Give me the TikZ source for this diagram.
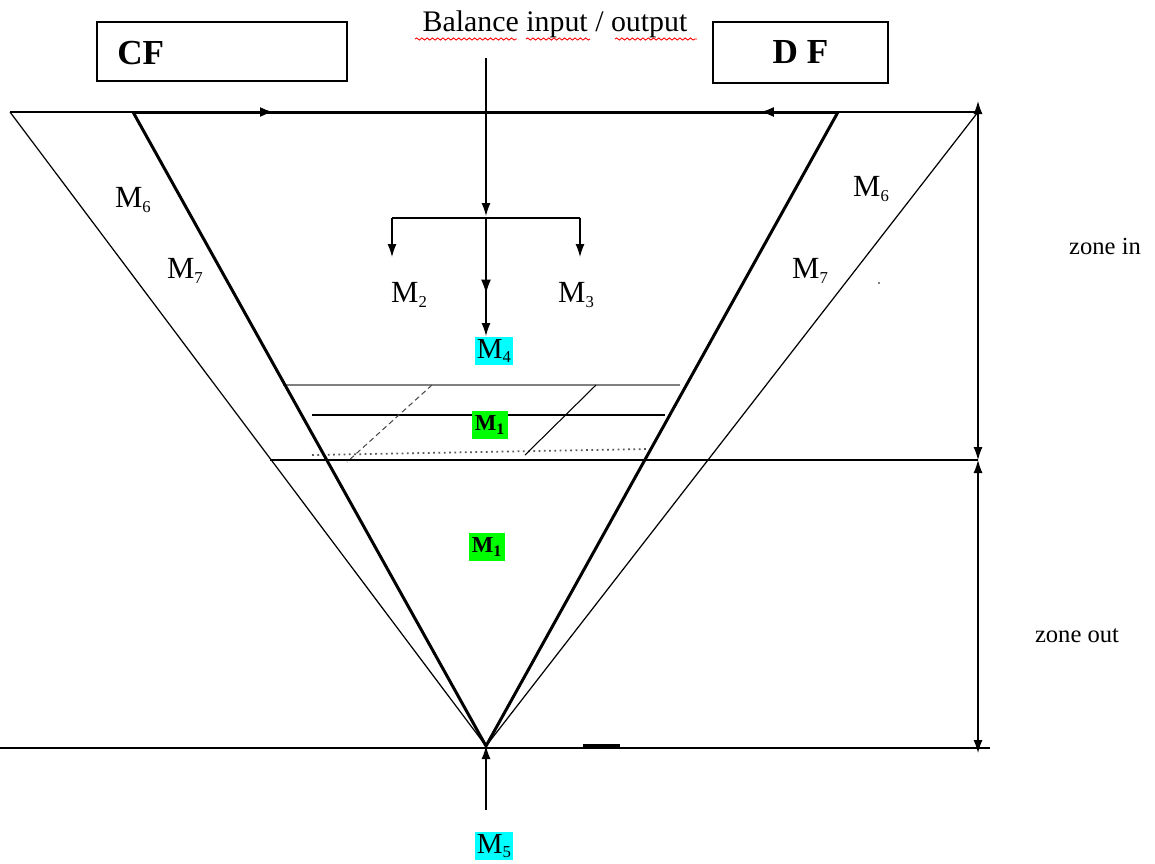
\documentclass[tikz,border=0pt]{standalone}
\usepackage{fontspec}
\setmainfont{Liberation Serif}
\usetikzlibrary{arrows.meta,decorations.markings,decorations.pathmorphing}
\newcommand\msub[2]{#1\raisebox{-0.3ex}{\fontsize{9.5}{10}\selectfont #2}}
\definecolor{hlgreen}{RGB}{0,255,0}
\definecolor{hlcyan}{RGB}{0,255,255}
\begin{document}
\begin{tikzpicture}[x=0.02cm,y=-0.02cm,
  thinl/.style={line width=0.7pt},
  thickl/.style={line width=1.7pt},
  tip/.style={-{Latex[length=2.6mm,width=1.8mm]}},
  dtip/.style={{Latex[length=2.6mm,width=1.8mm]}-{Latex[length=2.6mm,width=1.8mm]}},
  midarrow/.style={decoration={markings, mark=at position #1 with {\arrow{Latex[length=2.8mm,width=2mm]}}}, postaction=decorate},
  midarrowrev/.style={decoration={markings, mark=at position #1 with {\arrowreversed{Latex[length=2.8mm,width=2mm]}}}, postaction=decorate},
  box/.style={draw, line width=0.9pt, inner sep=0},
  lbl/.style={font=\fontsize{17.5}{18}\selectfont, inner sep=0},
  hl/.style={font=\fontsize{16.5}{17}\selectfont, inner xsep=1pt, inner ysep=1.5pt},
  hlb/.style={font=\bfseries\fontsize{13}{14}\selectfont, fill=hlgreen, inner xsep=1.5pt, inner ysep=2.5pt},
  zone/.style={font=\fontsize{14}{15}\selectfont, inner sep=0},
  wavy/.style={red, line width=0.5pt, decorate, decoration={snake, amplitude=0.6pt, segment length=3pt}}
]
\useasboundingbox (0,0) rectangle (1155,863);

% key points
\coordinate (A) at (486,746);
\coordinate (TL) at (133,112);
\coordinate (TR) at (838,112);
\coordinate (OL) at (10,112);
\coordinate (OR) at (978,112);
\coordinate (ORb) at (978,101);
\coordinate (Z) at (978,460);
\coordinate (Zb) at (978,753);
\coordinate (ML) at (270,460);

% top boxes and title
\node[box, minimum width=5cm, minimum height=1.18cm] (cf) at (222,51.5) {};
\node[font=\bfseries\fontsize{20}{22}\selectfont, anchor=west, inner sep=0] (cft) at (117,53) {CF};
\node[box, minimum width=3.5cm, minimum height=1.22cm, font=\bfseries\fontsize{20}{22}\selectfont] (df) at (800.5,52.5) {D F};
\node[font=\fontsize{17}{18}\selectfont, anchor=base, inner sep=0] (bal) at (555,31) {Balance input / output};
\draw[wavy] (415,39) -- (517,39);
\draw[wavy] (526,39) -- (590,39);
\draw[wavy] (615,39) -- (697,39);

% hatched band
\draw[line width=0.6pt, gray] (283,385) -- (680,385);
\draw[thinl] (312,415) -- (665,415);
\draw[line width=1pt, dotted, gray!70!black] (312,455) -- (648,449);
\draw[line width=0.6pt, densely dashed, gray!60!black] (432,385) -- (347,462);
\draw[line width=0.6pt] (596,385) -- (525,455);

% horizontal lines
\draw[thinl] (OL) -- (OR);
\draw[thinl] (ML) -- (Z);
\draw[thinl] (0,748) -- (990,748);
\draw[line width=2pt] (583,746) -- (620,746);

% outer thin V
\draw[thinl] (OL) -- (A) -- (OR);
% inner thick V
\draw[thickl, line join=miter] (TR) -- (A) -- (TL);
\draw[thickl, midarrow=0.2] (TL) -- (TR);
\draw[thickl, midarrowrev=0.889] (TL) -- (TR);

% dimension arrows
\draw[thinl, dtip] (ORb) -- (Z);
\draw[thinl, dtip] (Z) -- (Zb);
\node[zone] (zin) at (1105,246) {zone in};
\node[zone] (zout) at (1077,636) {zone out};

% balance flow
\coordinate (bstart) at (486,58);
\coordinate (br) at (486,216);
\coordinate (bl) at (392,218);
\coordinate (brr) at (580,218);
\coordinate (blend) at (392,257);
\coordinate (brend) at (580,257);
\draw[thinl, tip] (bstart) -- (br);
\draw[thinl] (bl) -- (brr);
\draw[thinl, tip] (bl) -- (blend);
\draw[thinl, tip] (brr) -- (brend);

\node[lbl] (m2) at (409,295) {\msub{M}{2}};
\node[lbl] (m3) at (576,295) {\msub{M}{3}};
\node[hl, fill=hlcyan] (m4) at (494,351) {\msub{M}{4}};
\draw[thinl, tip, midarrow=0.64] (486,218) -- (486,336);

\node[hlb] (m1a) at (490,425) {M\textsubscript{1}};
\node[hlb] (m1b) at (487,547) {M\textsubscript{1}};

\node[lbl] (m6l) at (133,200) {\msub{M}{6}};
\node[lbl] (m7l) at (185,271) {\msub{M}{7}};
\node[lbl] (m6r) at (871,189) {\msub{M}{6}};
\node[lbl] (m7r) at (810,271) {\msub{M}{7}};
\fill (879,283) circle (0.5pt);

% M5
\node[hl, fill=hlcyan] (m5) at (494,846) {\msub{M}{5}};
\coordinate (m5top) at (486,810);
\draw[thinl, tip] (m5top) -- (A);
\end{tikzpicture}
\end{document}
